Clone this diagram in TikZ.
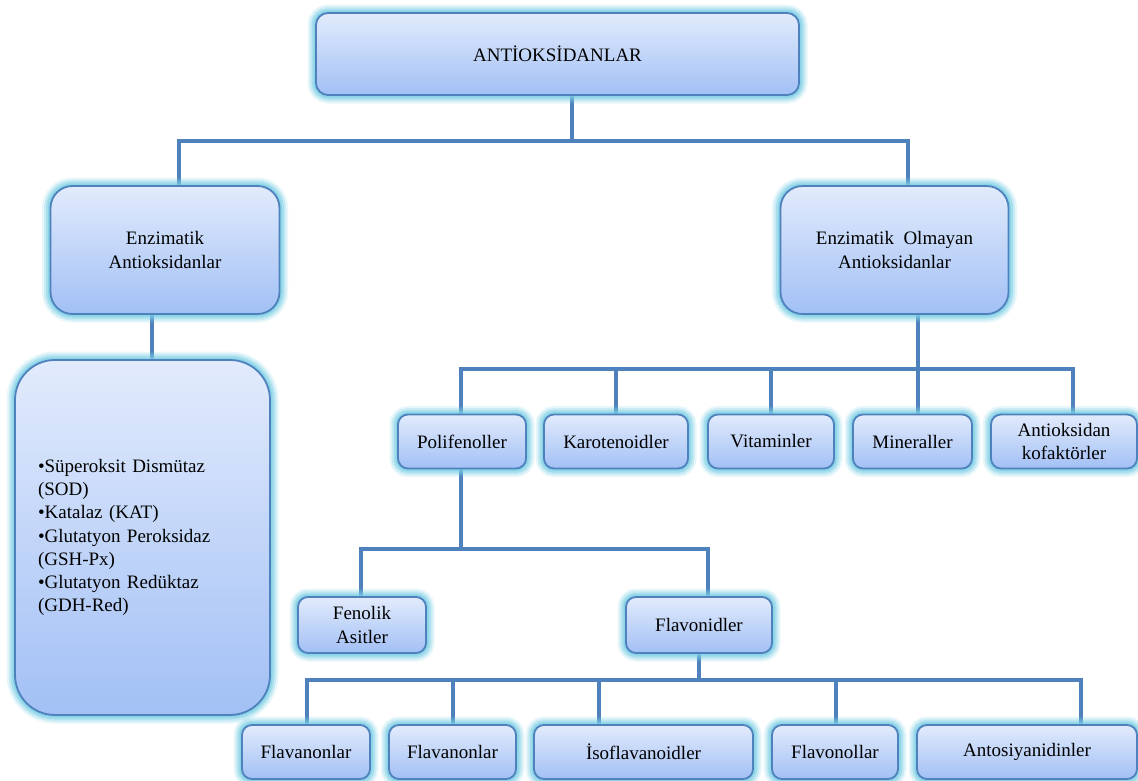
\documentclass[tikz,border=0pt]{standalone}
\usepackage{fontspec}
\setmainfont{Liberation Serif}
\definecolor{lnc}{RGB}{79,129,189}
\definecolor{topc}{RGB}{226,235,252}
\definecolor{botc}{RGB}{162,192,245}
\definecolor{glowc}{RGB}{120,205,228}
\pgfdeclarelayer{background}
\pgfsetlayers{background,main}
\begin{document}
\begin{tikzpicture}[x=1pt,y=-1pt,
  box/.style={draw=lnc, line width=1.8pt, rounded corners=10pt, top color=topc, bottom color=botc,
    inner sep=0pt, align=center, font=\fontsize{19}{23.3}\selectfont,
    preaction={draw=glowc, draw opacity=0.18, line width=17pt},
    preaction={draw=glowc, draw opacity=0.28, line width=13pt},
    preaction={draw=glowc, draw opacity=0.42, line width=9pt},
    preaction={draw=glowc, draw opacity=0.6, line width=5pt}},
  rowb/.style={box, minimum height=54pt},
  conn/.style={draw=lnc, line width=4pt}]
\useasboundingbox (0,0) rectangle (1138,780);

% boxes
\node[box, minimum width=483pt, minimum height=82pt, rounded corners=12pt] (top) at (557.5,54) {ANTİOKSİDANLAR};
\node[box, minimum width=229pt, minimum height=128pt, rounded corners=22pt] (enz) at (165,250) {Enzimatik\\Antioksidanlar};
\node[box, minimum width=228pt, minimum height=128pt, rounded corners=22pt] (nenz) at (894.5,250) {Enzimatik\ \ Olmayan\\Antioksidanlar};
\node[box, minimum width=255pt, minimum height=355pt, rounded corners=40pt, align=left, text width=209pt, inner xsep=23pt] (list) at (142.5,537.5)
  {•Süperoksit Dismütaz\\(SOD)\\•Katalaz (KAT)\\•Glutatyon Peroksidaz\\(GSH-Px)\\•Glutatyon Redüktaz\\(GDH-Red)};

\node[rowb, minimum width=128pt] (poli) at (462,441.5) {Polifenoller};
\node[rowb, minimum width=144pt] (karo) at (616,441.5) {Karotenoidler};
\node[rowb, minimum width=126pt] (vit) at (771,441.5) {Vitaminler};
\node[rowb, minimum width=119pt] (min) at (912.5,441.5) {Mineraller};
\node[rowb, minimum width=146pt] (kof) at (1064,441.5) {Antioksidan\\kofaktörler};

\node[box, minimum width=128pt, minimum height=56pt] (fen) at (362,625) {Fenolik\\Asitler};
\node[box, minimum width=146pt, minimum height=56pt] (flav) at (699,625) {Flavonidler};

\node[rowb, minimum width=128pt] (f1) at (306,752) {Flavanonlar};
\node[rowb, minimum width=127pt] (f2) at (452.5,752) {Flavanonlar};
\node[rowb, minimum width=219pt] (iso) at (643.5,752) {İsoflavanoidler};
\node[rowb, minimum width=126pt] (flo) at (835,752) {Flavonollar};
\node[rowb, minimum width=220pt] (ant) at (1027,752) {Antosiyanidinler};

% junction points
\coordinate (b1m) at (572,141);
\coordinate (b1l) at (179,141);
\coordinate (b1r) at (908,141);
\coordinate (s2) at (152,330);
\coordinate (b3a) at (461,369);
\coordinate (b3b) at (616,369);
\coordinate (b3c) at (771,369);
\coordinate (b3m) at (918,369);
\coordinate (b3e) at (1073,369);
\coordinate (b4m) at (461,549);
\coordinate (b4l) at (361,549);
\coordinate (b4r) at (708,549);
\coordinate (b5m) at (699,680);
\coordinate (b5a) at (307,680);
\coordinate (b5b) at (453,680);
\coordinate (b5c) at (599,680);
\coordinate (b5d) at (836,680);
\coordinate (b5e) at (1081,680);

\begin{pgfonlayer}{background}
\draw[conn] (top.south -| b1m) -- (b1m);
\draw[conn] (enz.north -| b1l) -- (b1l) -- (b1r) -- (nenz.north -| b1r);
\draw[conn] (enz.south -| s2) -- (list.north -| s2);
\draw[conn] (nenz.south -| b3m) -- (min.north -| b3m);
\draw[conn] (poli.north -| b3a) -- (b3a) -- (b3e) -- (kof.north -| b3e);
\draw[conn] (b3b) -- (karo.north -| b3b);
\draw[conn] (b3c) -- (vit.north -| b3c);
\draw[conn] (poli.south -| b4m) -- (b4m);
\draw[conn] (fen.north -| b4l) -- (b4l) -- (b4r) -- (flav.north -| b4r);
\draw[conn] (flav.south -| b5m) -- (b5m);
\draw[conn] (f1.north -| b5a) -- (b5a) -- (b5e) -- (ant.north -| b5e);
\draw[conn] (b5b) -- (f2.north -| b5b);
\draw[conn] (b5c) -- (iso.north -| b5c);
\draw[conn] (b5d) -- (flo.north -| b5d);
\end{pgfonlayer}
\end{tikzpicture}
\end{document}
